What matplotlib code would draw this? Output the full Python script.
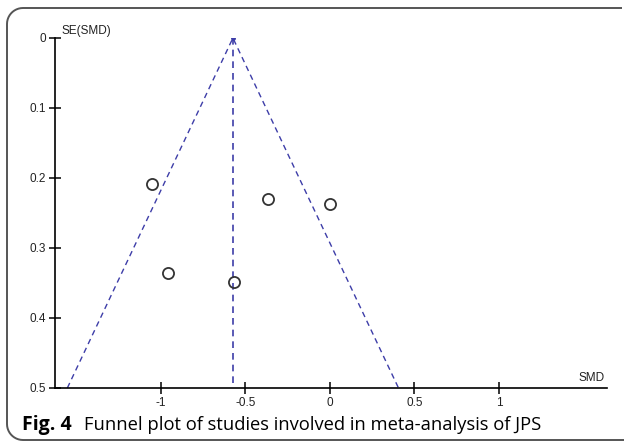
import numpy as np
import matplotlib.pyplot as plt
from matplotlib.lines import Line2D

# study estimates (standardised mean difference) and their standard errors
smd = [-1.055, -0.96, -0.566, -0.365, 0.0]
se_smd = [0.208, 0.335, 0.349, 0.230, 0.237]
pooled_smd = -0.574
se_max = 0.5

x_ticks = [-1, -0.5, 0, 0.5, 1]
x_tick_labels = ["-1", "-0.5", "0", "0.5", "1"]
y_ticks = [0, 0.1, 0.2, 0.3, 0.4, 0.5]
y_tick_labels = ["0", "0.1", "0.2", "0.3", "0.4", "0.5"]

W, H = 624, 442
fig = plt.figure(figsize=(W / 100, H / 100), dpi=100)

# panel frame: rounded on the left, open to the right (pixel coords, y down)
r = 16
left, top, bottom, right = 7, 8, 440, 622
a1 = np.linspace(np.pi / 2, np.pi, 12)
a2 = np.linspace(np.pi, 1.5 * np.pi, 12)
fx = np.concatenate([[right], left + r + r * np.cos(a1),
                     left + r + r * np.cos(a2), [right + 20]])
fy = np.concatenate([[top], top + r - r * np.sin(a1),
                     bottom - r - r * np.sin(a2), [bottom]])
fig.add_artist(Line2D(fx / W, 1 - fy / H, transform=fig.transFigure,
                      color="#555555", lw=1.4, solid_capstyle="butt"))

ax = fig.add_axes([55 / W, 54 / H, 552 / W, 350 / H])
ax.set_xlim(-1.627, 1.64)
ax.set_ylim(se_max, 0)

funnel_col = "#3d3da8"
left_edge = pooled_smd - 1.96 * se_max
right_edge = pooled_smd + 1.96 * se_max
ax.plot([left_edge, pooled_smd, right_edge], [se_max, 0, se_max],
        color=funnel_col, lw=1.0, ls=(0, (4, 3)))
ax.plot([pooled_smd, pooled_smd], [0, se_max],
        color=funnel_col, lw=1.2, ls=(0, (4, 3)))
ax.plot([pooled_smd], [0], marker="o", ms=2.5, color=funnel_col)

ax.plot(smd, se_smd, ls="none", marker="o", ms=8, mfc="none",
        mec="#333333", mew=1.3)

for s in ["top", "right"]:
    ax.spines[s].set_visible(False)
for s in ["left", "bottom"]:
    ax.spines[s].set_linewidth(1.2)

tick_font = {"family": "Liberation Sans", "size": 8.5, "color": "#222222"}
ax.set_xticks(x_ticks)
ax.set_xticklabels(x_tick_labels, fontdict=tick_font)
ax.set_yticks(y_ticks)
ax.set_yticklabels(y_tick_labels, fontdict=tick_font)
ax.tick_params(direction="inout", length=9, width=1.1, pad=2)

ax.text(0.012, 1.003, "SE(SMD)", transform=ax.transAxes, ha="left",
        va="bottom", **tick_font)
ax.text(0.972, 0.012, "SMD", transform=ax.transAxes, ha="center",
        va="bottom", **tick_font)

cap_font = "Open Sans"
fig.text(22 / W, 1 - 430 / H, "Fig. 4", family=cap_font, weight="bold",
         size=14, ha="left", va="baseline")
fig.text(84 / W, 1 - 430 / H,
         "Funnel plot of studies involved in meta-analysis of JPS",
         family=cap_font, size=13.2, ha="left", va="baseline")

fig.savefig("out.png", dpi=100)
